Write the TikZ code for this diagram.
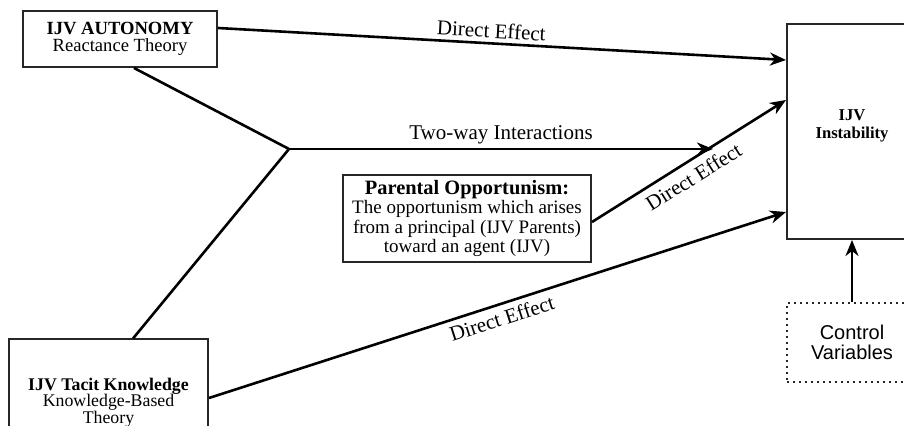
\documentclass[tikz,border=0pt]{standalone}
\usepackage{fontspec}
\setmainfont{Liberation Serif}
\newfontfamily\sansf{Liberation Sans}
\usetikzlibrary{arrows.meta}
\begin{document}
\begin{tikzpicture}[x=0.5pt,y=-0.5pt,
  box/.style={draw=black!85, line width=1pt, fill=white, inner sep=0pt, align=center},
  conn/.style={line width=1.3pt, black},
  arr/.style={conn, -{Stealth[length=8pt,width=6.5pt,inset=2.5pt]}},
  lbl/.style={font=\fontsize{10.5}{12}\selectfont, sloped}
]
\useasboundingbox (0,0) rectangle (904,426);
\clip (0,0) rectangle (904,426);

\node[box, minimum width=97pt, minimum height=28pt, font=\fontsize{9.3}{8.6}\selectfont] (aut) at (120,39)
  {\textbf{IJV AUTONOMY}\\Reactance Theory};
\node[box, minimum width=99.5pt, minimum height=63pt, font=\fontsize{8.9}{8.3}\selectfont] (tac) at (108.5,402.5)
  {\textbf{IJV Tacit Knowledge}\\Knowledge-Based\\Theory};
\node[box, minimum width=124pt, minimum height=43.5pt, font=\fontsize{9.5}{8.6}\selectfont] (par) at (467,218.5)
  {{\fontsize{10.2}{8.6}\selectfont\textbf{Parental Opportunism:}}\\The opportunism which arises\\from a principal (IJV Parents)\\toward an agent (IJV)};
\node[box, minimum width=65pt, minimum height=107.5pt] (inst) at (852,131.5) {};
\node[align=center, inner sep=0pt, font=\fontsize{8.3}{9}\selectfont\bfseries] (instlbl) at (852,126)
  {IJV\\Instability};
\node[box, dotted, minimum width=65pt, minimum height=39.5pt, font=\sansf\fontsize{10}{10}\selectfont] (ctrl) at (852,342.5)
  {Control\\Variables};

\coordinate (j) at (289,149);
\coordinate (tw) at (713,149);

\draw[conn] ([xshift=7pt]aut.south) -- (j);
\draw[conn] ([xshift=12.25pt]tac.north) -- (j);
\draw[arr] (j) -- node[lbl, above, inner sep=2pt] {Two-way Interactions} (tw);

\draw[arr] ([yshift=5.5pt]aut.east) -- node[lbl, above, pos=0.48, inner sep=2pt] {Direct Effect} ([yshift=35.75pt]inst.west);
\draw[arr] ([yshift=-1.75pt]par.east) -- node[lbl, below, pos=0.48, inner sep=3.5pt] {Direct Effect} ([yshift=15.75pt]inst.west);
\draw[arr] ([yshift=2.25pt]tac.east) -- node[lbl, below, pos=0.5, inner sep=2.6pt] {Direct Effect} ([yshift=-40.25pt]inst.west);

\draw[arr] (ctrl.north) -- (inst.south);
\end{tikzpicture}
\end{document}
